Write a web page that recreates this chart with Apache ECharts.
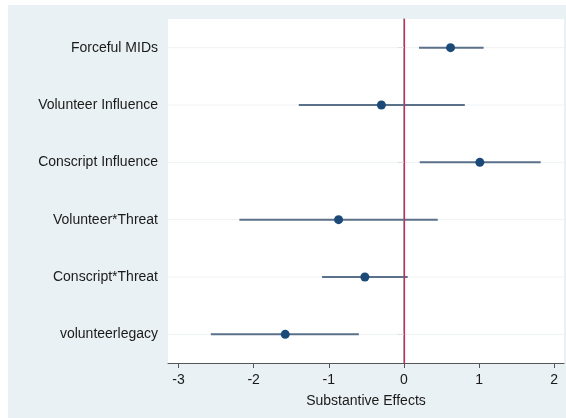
<!DOCTYPE html>
<html><head><meta charset="utf-8">
<script src="https://cdn.jsdelivr.net/npm/echarts@6/dist/echarts.min.js"></script>
<style>html,body{margin:0;padding:0;background:#fff;}#c{width:566px;height:418px;}</style>
</head><body><div id="c"></div>
<script>
var categories = ['Forceful MIDs','Volunteer Influence','Conscript Influence','Volunteer*Threat','Conscript*Threat','volunteerlegacy'];
var estimates = [0.62, -0.30, 1.01, -0.87, -0.52, -1.58];
var lower = [0.20, -1.40, 0.21, -2.19, -1.09, -2.57];
var upper = [1.06, 0.81, 1.82, 0.45, 0.05, -0.60];
var xTicks = [-3, -2, -1, 0, 1, 2];

var chart = echarts.init(document.getElementById('c'), null, {renderer:'canvas'});
var ciData = categories.map(function(c,i){return [lower[i], upper[i], i];});
var ptData = categories.map(function(c,i){return [estimates[i], i];});
var font = '"Liberation Sans", Arial, Helvetica, sans-serif';
chart.setOption({
  animation:false,
  backgroundColor:'#fff',
  graphic:[{type:'rect', z:-10, shape:{x:8,y:5,width:558,height:413}, style:{fill:'#eaf1f4'}}],
  grid:{left:168, top:19, width:396, height:344, show:true, backgroundColor:'#fff', borderWidth:0},
  xAxis:{type:'value', min:-3.14, max:2.13,
    name:'Substantive Effects', nameLocation:'middle', nameGap:31,
    nameTextStyle:{color:'#1a1a1a', fontSize:14, fontFamily:font},
    axisLine:{show:true, lineStyle:{color:'#555', width:1}},
    axisTick:{show:true, length:5, customValues:xTicks, lineStyle:{color:'#555'}},
    axisLabel:{customValues:xTicks, color:'#1a1a1a', fontSize:14, fontFamily:font, margin:10},
    splitLine:{show:false}},
  yAxis:{type:'category', data:categories, inverse:true, boundaryGap:true,
    axisLine:{show:true, lineStyle:{color:'#888', width:1.5}},
    axisTick:{show:true, alignWithLabel:true, length:6, lineStyle:{color:'#888'}},
    axisLabel:{color:'#1a1a1a', fontSize:14, fontFamily:font, margin:10},
    splitLine:{show:false}},
  series:[
    {type:'custom', data:ciData, encode:{x:[0,1], y:2}, z:2,
     renderItem:function(params, api){
       var y = api.value(2);
       var a = api.coord([api.value(0), y]);
       var b = api.coord([api.value(1), y]);
       var l = api.coord([-3.14, y]);
       var r = api.coord([2.13, y]);
       return {type:'group', children:[
         {type:'line', shape:{x1:l[0], y1:l[1], x2:r[0], y2:r[1]}, style:{stroke:'#eef2f4', lineWidth:1}, z2:0},
         {type:'line', shape:{x1:a[0], y1:a[1], x2:b[0], y2:b[1]}, style:{stroke:'#5b7189', lineWidth:2}, z2:2}
       ]};
     }},
    {type:'scatter', data:ptData, symbol:'circle', symbolSize:9, z:5,
     itemStyle:{color:'#1b4a78', opacity:1},
     markLine:{silent:true, symbol:'none', label:{show:false},
       lineStyle:{color:'#d0285a', width:1.2, type:'solid'},
       data:[{xAxis:0}], z:3}}
  ]
});
</script></body></html>
